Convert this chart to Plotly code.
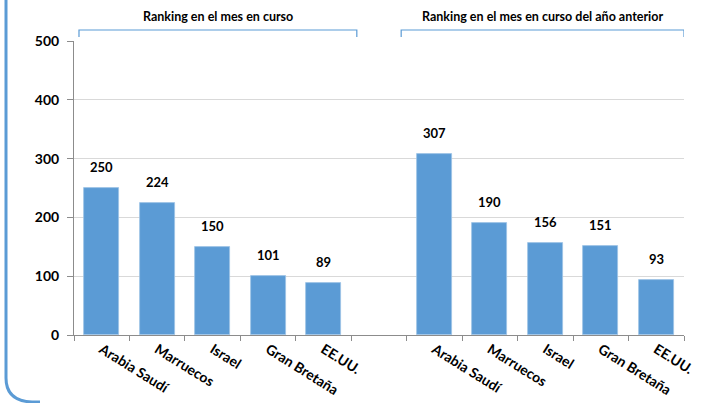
import plotly.graph_objects as go

# datos
paises = ["Arabia Saudí", "Marruecos", "Israel", "Gran Bretaña", "EE.UU."]
mes_actual = [250, 224, 150, 101, 89]
mes_anio_anterior = [307, 190, 156, 151, 93]
grupos = ["Ranking en el mes en curso", "Ranking en el mes en curso del año anterior"]

W, H = 704, 403
L, R, T, B = 74, 20, 41, 68
FONT = "Lato"
AZUL = "#5B9BD5"

# posiciones: 5 barras, un hueco vacio, 5 barras
x1 = list(range(len(paises)))
x2 = [i + len(paises) + 1 for i in range(len(paises))]
xs = x1 + x2
vals = mes_actual + mes_anio_anterior
labels = paises + paises


def px_x(p):
    return (p - L) / (W - L - R)


def px_y(p):
    return 1 - (p - T) / (H - T - B)


fig = go.Figure()
fig.add_trace(go.Bar(
    x=xs, y=vals, width=0.63,
    marker=dict(color=AZUL, line=dict(color="#9DC3E6", width=0.8)),
    hoverinfo="x+y",
))

# etiquetas de datos
for x, v in zip(xs, vals):
    fig.add_annotation(x=x, y=v, text=f"<b>{v}</b>", showarrow=False,
                       yanchor="bottom", yshift=11,
                       font=dict(family=FONT, size=13, color="black"))

# llaves de grupo
brackets = [(-0.41, 4.6), (5.4, 10.5)]
for (a, b), g in zip(brackets, grupos):
    ytop = px_y(30)
    ybot = px_y(37)
    fig.add_shape(type="path", xref="x", yref="paper",
                  path=f"M {a},{ybot} L {a},{ytop} L {b},{ytop} L {b},{ybot}",
                  line=dict(color=AZUL, width=1.2))
    fig.add_annotation(x=(a + b) / 2, xref="x", y=px_y(17), yref="paper",
                       xanchor="center", yanchor="middle",
                       text=f"<b>{g}</b>", showarrow=False,
                       font=dict(family=FONT, size=12.5, color="black"))

# marco azul a la izquierda
x0 = px_x(6)
fig.add_shape(type="path", xref="paper", yref="paper",
              path=(f"M {x0},{px_y(-5)} L {x0},{px_y(378)} "
                    f"Q {x0},{px_y(401)} {px_x(32)},{px_y(402)} L {px_x(40)},{px_y(402)}"),
              line=dict(color=AZUL, width=3))

fig.update_layout(
    width=W, height=H,
    margin=dict(l=L, r=R, t=T, b=B),
    plot_bgcolor="white", paper_bgcolor="white",
    showlegend=False, bargap=0,
    font=dict(family=FONT, color="black"),
)
fig.update_xaxes(
    range=[-0.5, 10.5], automargin=False,
    tickmode="array", tickvals=xs, ticktext=[f"<b>{t}</b>" for t in labels],
    tickangle=32, tickfont=dict(family=FONT, size=14, color="black"),
    ticks="", showgrid=False, zeroline=False,
    showline=True, linecolor="#8C8C8C", linewidth=1,
    minor=dict(tickmode="array", tickvals=[i - 0.5 for i in range(12)],
               ticks="outside", ticklen=5, tickcolor="#8C8C8C", showgrid=False),
)
fig.update_yaxes(
    range=[0, 500], dtick=100, tickformat="d", automargin=False,
    tickfont=dict(family=FONT, size=14, color="black"),
    ticks="outside", ticklen=6, tickcolor="#8C8C8C",
    showline=True, linecolor="#8C8C8C", linewidth=1,
    gridcolor="#D9D9D9", zeroline=False,
    ticklabelstandoff=5,
)
fig.update_yaxes(tickprefix="<b>", ticksuffix="</b>")

# quitar el margen por defecto del body para que la figura ocupe toda la ventana
fig.write_html("out.html", config={"displayModeBar": False},
               post_script="document.body.style.margin='0';")
